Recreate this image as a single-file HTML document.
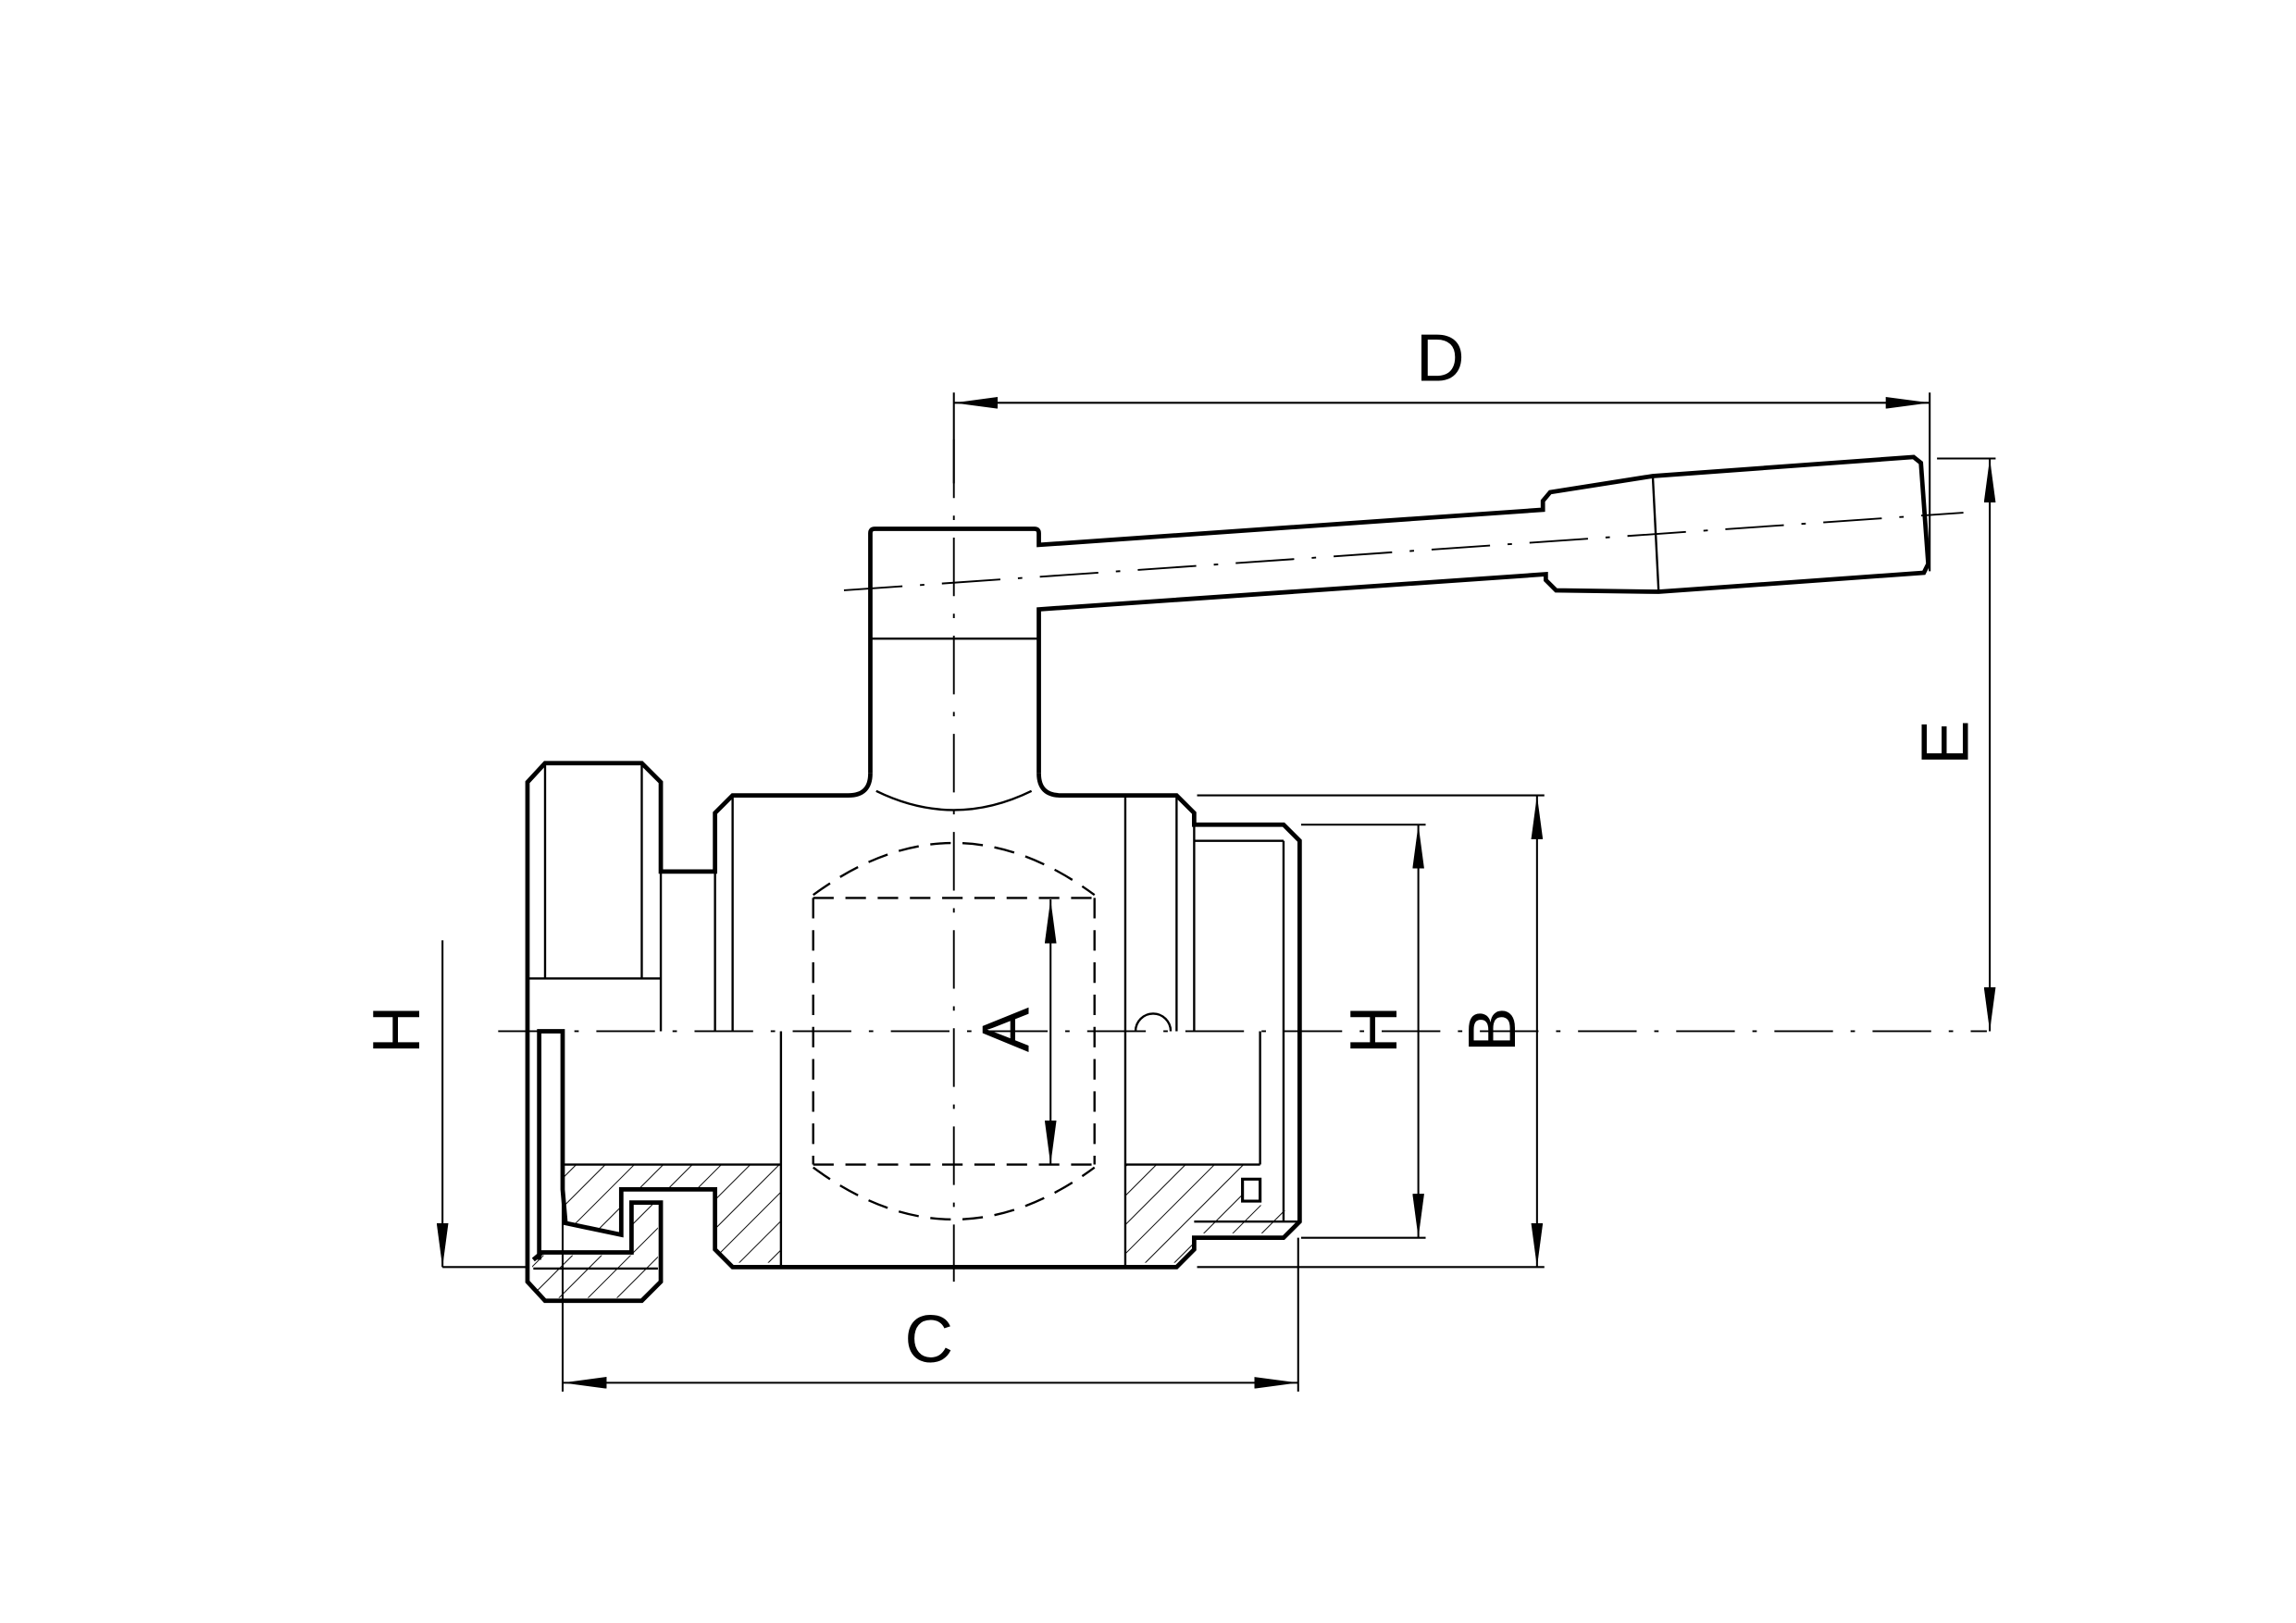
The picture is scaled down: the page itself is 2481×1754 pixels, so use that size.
<!DOCTYPE html>
<html><head><meta charset="utf-8"><style>
html,body{margin:0;padding:0;background:#fff;}
svg{display:block;}
text{font-family:"Liberation Sans",sans-serif;font-size:46px;fill:#000;}
</style></head><body>
<svg width="2481" height="1754" viewBox="0 0 1567 1108" preserveAspectRatio="none" xmlns="http://www.w3.org/2000/svg">
<defs>
<pattern id="h" width="14" height="14" patternUnits="userSpaceOnUse" patternTransform="rotate(45)">
<line x1="0" y1="0" x2="0" y2="14" stroke="#000" stroke-width="1.2"/></pattern>
<marker id="a" viewBox="0 0 30 8" refX="30" refY="4" markerWidth="30" markerHeight="8" markerUnits="userSpaceOnUse" orient="auto-start-reverse"><path d="M0,0L30,4L0,8z" fill="#000"/></marker>
</defs>
<g fill="none" stroke="#000">
<g stroke-width="1.2" stroke-dasharray="40,12,3,12">
<line x1="340" y1="704" x2="1356" y2="704"/>
<line x1="651" y1="300" x2="651" y2="875"/>
<line x1="576" y1="403" x2="1340" y2="350"/>
</g>
<g fill="url(#h)" stroke="none">
<polygon points="384,795 533,795 533,862 500,862 488,852 488,812 424,812 424,843 386,835"/>
<polygon points="768,795 860,795 848,805 848,820 884,828 884,834 876,842 815,842 815,853 803,862 768,862"/>
<polygon points="364,857 431,857 431,821 449,821 449,875 438,886 372,886 362,876"/>
</g>
<g stroke-width="3">
<path d="M594,528 V364 Q594,361 597,361 H706 Q709,361 709,364 V372 L1053,348 V342 L1058,336 L1128,325 L1306,312 L1311,316 L1316,385 L1313,391 L1132,404 L1062,403 L1055,396 L1055,392 L709,416 V528"/>
<path d="M594,528 Q594,543 579,543 H500 L488,555 V595 H451 V534 L438,521 H372 L360,534 V875 L372,888 H438 L451,875 V821 H431 V855 L370,855 L364,860"/>
<path d="M709,528 Q709,543 724,543 H803 L815,555 V563 H876 L887,574 V834 L876,845 H815 V853 L803,865 H500 L488,853 V812 H424 V843 L386,835 L384,812 V704 H368 V860"/>
<path d="M848,805 V820 H860 V805 Z" stroke-width="2"/>
</g>
<g stroke-width="1.5">
<line x1="594" y1="436" x2="709" y2="436"/>
<line x1="1128" y1="325" x2="1132" y2="404"/>
<line x1="372" y1="521" x2="372" y2="668"/>
<line x1="438" y1="521" x2="438" y2="668"/>
<line x1="360" y1="668" x2="451" y2="668"/>
<line x1="451" y1="595" x2="451" y2="704"/>
<line x1="500" y1="543" x2="500" y2="704"/>
<line x1="488" y1="595" x2="488" y2="704"/>
<line x1="768" y1="543" x2="768" y2="865"/>
<line x1="803" y1="543" x2="803" y2="704"/>
<line x1="815" y1="563" x2="815" y2="704"/>
<line x1="815" y1="574" x2="876" y2="574"/>
<line x1="876" y1="574" x2="876" y2="834"/>
<line x1="860" y1="704" x2="860" y2="795"/>
<line x1="533" y1="704" x2="533" y2="865"/>
<line x1="384" y1="795" x2="533" y2="795"/>
<line x1="768" y1="795" x2="860" y2="795"/>
<line x1="815" y1="834" x2="887" y2="834"/>
<line x1="364" y1="866" x2="449" y2="866"/>
<path d="M775,704 A12,12 0 0 1 799,704"/>
<path d="M598,540 Q651,566 704,540"/>
</g>
<g stroke-width="1.5" stroke-dasharray="14,8">
<line x1="555" y1="613" x2="747" y2="613"/>
<line x1="555" y1="795" x2="747" y2="795"/>
<line x1="555" y1="613" x2="555" y2="795"/>
<line x1="747" y1="613" x2="747" y2="795"/>
<path d="M555,611 Q651,540 747,611"/>
<path d="M555,797 Q651,868 747,797"/>
</g>
<g stroke-width="1.3">
<line x1="651" y1="268" x2="651" y2="330"/>
<line x1="1317" y1="268" x2="1317" y2="390"/>
<line x1="651" y1="275" x2="1317" y2="275" marker-start="url(#a)" marker-end="url(#a)"/>
<line x1="1322" y1="313" x2="1362" y2="313"/>
<line x1="1358" y1="313" x2="1358" y2="704" marker-start="url(#a)" marker-end="url(#a)"/>
<line x1="817" y1="543" x2="1054" y2="543"/>
<line x1="817" y1="865" x2="1054" y2="865"/>
<line x1="1049" y1="543" x2="1049" y2="865" marker-start="url(#a)" marker-end="url(#a)"/>
<line x1="888" y1="563" x2="973" y2="563"/>
<line x1="888" y1="845" x2="973" y2="845"/>
<line x1="968" y1="563" x2="968" y2="845" marker-start="url(#a)" marker-end="url(#a)"/>
<line x1="302" y1="642" x2="302" y2="865" marker-end="url(#a)"/>
<line x1="302" y1="865" x2="360" y2="865"/>
<line x1="384" y1="705" x2="384" y2="950"/>
<line x1="886" y1="845" x2="886" y2="950"/>
<line x1="384" y1="944" x2="886" y2="944" marker-start="url(#a)" marker-end="url(#a)"/>
<line x1="717" y1="614" x2="717" y2="795" marker-start="url(#a)" marker-end="url(#a)"/>
</g>
</g>
<text x="983" y="260" text-anchor="middle">D</text>
<text x="634" y="930" text-anchor="middle">C</text>
<text transform="translate(1343,507) rotate(-90)" text-anchor="middle">E</text>
<text transform="translate(1034,703) rotate(-90)" text-anchor="middle">B</text>
<text transform="translate(953,703) rotate(-90)" text-anchor="middle">H</text>
<text transform="translate(286,703) rotate(-90)" text-anchor="middle">H</text>
<text transform="translate(702,703) rotate(-90)" text-anchor="middle">A</text>
</svg>
</body></html>
